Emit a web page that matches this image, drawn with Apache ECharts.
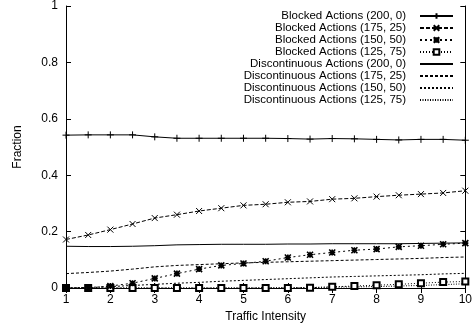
<!DOCTYPE html>
<html>
<head>
<meta charset="utf-8">
<script src="https://cdn.jsdelivr.net/npm/echarts@6/dist/echarts.min.js"></script>
<style>
html,body{margin:0;padding:0;background:#fff;}
#chart{width:475px;height:328px;}
</style>
</head>
<body>
<div id="chart"></div>
<script>
// Traffic intensity sample points
const intensity = [1, 1.5, 2, 2.5, 3, 3.5, 4, 4.5, 5, 5.5, 6, 6.5, 7, 7.5, 8, 8.5, 9, 9.5, 10];

const seriesNames = [
  'Blocked Actions (200, 0)',
  'Blocked Actions (175, 25)',
  'Blocked Actions (150, 50)',
  'Blocked Actions (125, 75)',
  'Discontinuous Actions (200, 0)',
  'Discontinuous Actions (175, 25)',
  'Discontinuous Actions (150, 50)',
  'Discontinuous Actions (125, 75)'
];

const blocked200 = [0.542, 0.543, 0.543, 0.543, 0.536, 0.531, 0.531, 0.531, 0.531, 0.531, 0.530, 0.528, 0.530, 0.529, 0.527, 0.525, 0.527, 0.527, 0.524];
const blocked175 = [0.172, 0.188, 0.207, 0.227, 0.248, 0.260, 0.273, 0.283, 0.293, 0.297, 0.304, 0.307, 0.315, 0.318, 0.324, 0.329, 0.333, 0.337, 0.345];
const blocked150 = [0.000, 0.000, 0.007, 0.017, 0.034, 0.051, 0.067, 0.080, 0.087, 0.095, 0.108, 0.118, 0.126, 0.134, 0.138, 0.146, 0.150, 0.155, 0.159];
const blocked125 = [0.000, 0.000, 0.000, 0.000, 0.000, 0.000, 0.000, 0.000, 0.000, 0.000, 0.000, 0.001, 0.004, 0.007, 0.010, 0.013, 0.017, 0.021, 0.023];
const disc200 = [0.148, 0.147, 0.147, 0.148, 0.150, 0.153, 0.154, 0.155, 0.155, 0.155, 0.156, 0.156, 0.157, 0.157, 0.157, 0.157, 0.158, 0.159, 0.160];
const disc175 = [0.051, 0.055, 0.060, 0.067, 0.075, 0.080, 0.083, 0.086, 0.089, 0.091, 0.093, 0.095, 0.097, 0.099, 0.101, 0.103, 0.105, 0.108, 0.110];
const disc150 = [0.000, 0.002, 0.005, 0.009, 0.013, 0.017, 0.020, 0.024, 0.027, 0.030, 0.033, 0.036, 0.039, 0.041, 0.043, 0.045, 0.047, 0.050, 0.052];
const disc125 = [0.000, 0.000, 0.000, 0.000, 0.000, 0.000, 0.000, 0.000, 0.000, 0.001, 0.001, 0.002, 0.003, 0.004, 0.005, 0.007, 0.009, 0.012, 0.015];

const xTicks = [1, 2, 3, 4, 5, 6, 7, 8, 9, 10];
const yTicks = [0, 0.2, 0.4, 0.6, 0.8, 1];

const values = [blocked200, blocked175, blocked150, blocked125, disc200, disc175, disc150, disc125];

const styles = [
  {dash: 'solid', symbol: 'path://M0,5L10,5M5,0L5,10', size: 7, bw: 1},
  {dash: [4, 2], symbol: 'path://M0,0L10,10M0,10L10,0', size: 6, bw: 1},
  {dash: [2, 3], symbol: 'path://M0,5L10,5M5,0L5,10M0,0L10,10M0,10L10,0', size: 6, bw: 1.6},
  {dash: [1, 2], symbol: 'emptyRect', size: 6, bw: 1},
  {dash: 'solid', symbol: 'none', size: 0, bw: 0},
  {dash: [3, 2], symbol: 'none', size: 0, bw: 0},
  {dash: [2, 2], symbol: 'none', size: 0, bw: 0},
  {dash: [1, 1.5], symbol: 'none', size: 0, bw: 0}
];

const FONT = 'Liberation Sans, Arial, Helvetica, sans-serif';

const series = values.map((vals, i) => ({
  name: seriesNames[i],
  type: 'line',
  xAxisIndex: 0,
  yAxisIndex: 0,
  data: intensity.map((x, j) => [x, vals[j]]),
  symbol: styles[i].symbol,
  symbolSize: styles[i].size,
  showSymbol: styles[i].symbol !== 'none',
  z: 10 - i,
  animation: false,
  lineStyle: {color: '#000', width: 1, type: styles[i].dash},
  itemStyle: {color: '#000', borderColor: '#000', borderWidth: styles[i].bw},
  emphasis: {disabled: true}
}));

const legendData = seriesNames.map((n, i) => styles[i].symbol === 'none'
  ? {name: n, itemStyle: {opacity: 0, color: 'rgba(0,0,0,0)', borderColor: 'rgba(0,0,0,0)', borderWidth: 0}}
  : {name: n});

const axisCommon = {
  axisLine: {show: true, lineStyle: {color: '#000', width: 1}},
  axisTick: {show: true, inside: true, length: 5, lineStyle: {color: '#000', width: 1}},
  splitLine: {show: false}
};

const chart = echarts.init(document.getElementById('chart'), null, {renderer: 'canvas'});
chart.setOption({
  animation: false,
  backgroundColor: '#fff',
  textStyle: {fontFamily: FONT},
  grid: {left: 66, right: 7, top: 4, bottom: 36, containLabel: false},
  legend: {
    data: legendData,
    orient: 'vertical',
    align: 'right',
    right: 21,
    top: 10,
    padding: 0,
    itemGap: 0,
    itemWidth: 33,
    itemHeight: 7,
    selectedMode: false,
    textStyle: {fontFamily: FONT, fontSize: 11.5, color: '#000', lineHeight: 12, padding: [0, 9, 0, 0]}
  },
  xAxis: [
    Object.assign({
      type: 'value', position: 'bottom', min: xTicks[0], max: xTicks[xTicks.length - 1], interval: 1,
      name: 'Traffic Intensity', nameLocation: 'middle', nameGap: 23,
      nameTextStyle: {fontFamily: FONT, fontSize: 12, color: '#000'},
      axisLabel: {fontFamily: FONT, fontSize: 12, color: '#000', margin: 6}
    }, axisCommon),
    Object.assign({
      type: 'value', position: 'top', min: xTicks[0], max: xTicks[xTicks.length - 1], interval: 1,
      axisLabel: {show: false}
    }, axisCommon)
  ],
  yAxis: [
    Object.assign({
      type: 'value', position: 'left', min: yTicks[0], max: yTicks[yTicks.length - 1], interval: 0.2,
      name: 'Fraction', nameLocation: 'middle', nameGap: 42,
      nameTextStyle: {fontFamily: FONT, fontSize: 12, color: '#000'},
      axisLabel: {fontFamily: FONT, fontSize: 12, color: '#000', margin: 8}
    }, axisCommon),
    Object.assign({
      type: 'value', position: 'right', min: yTicks[0], max: yTicks[yTicks.length - 1], interval: 0.2,
      axisLabel: {show: false}
    }, axisCommon)
  ],
  series: series
});
</script>
</body>
</html>
